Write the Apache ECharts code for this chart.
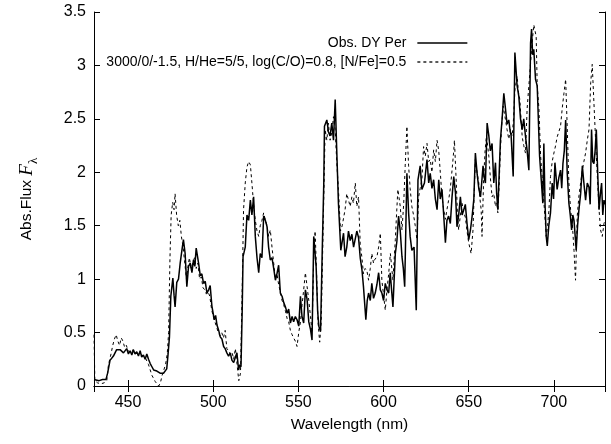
<!DOCTYPE html>
<html>
<head>
<meta charset="utf-8">
<script src="https://cdn.jsdelivr.net/npm/echarts@6/dist/echarts.min.js"></script>
<style>html,body{margin:0;padding:0;background:#fff}#c{width:611px;height:444px}</style>
</head>
<body>
<div id="c"></div>
<script>
// Observed spectrum (solid)
const obsWl = [430,431,433,435,437,438,439.4,441.4,443.3,445.3,447.3,449.2,450.2,451.2,452.2,453.1,454.1,455.1,456.1,457.1,458,459,460,461,462,463,464,465,466.9,468.8,470.8,472.7,473.5,474.3,475.1,476.3,477,477.6,478.6,479.6,480.6,481.6,482.5,483.5,484.5,485.5,486.5,487.5,488.4,489.2,490,491.4,492.4,493.3,494.3,495.3,496.3,497.3,498.2,499.2,500.6,501.4,502.2,503.2,504.1,505.1,506.1,507,508,509,510,511,512,513,513.9,514.9,515.6,516.3,517,517.5,518.8,519.8,520.8,521.8,522.7,523.7,524.7,525.7,526.7,527.6,528.6,529.6,530.6,531.6,532.5,533.5,534.5,535.5,536.5,537.4,538.4,539.4,540.4,541.4,542.4,543.4,544.3,545.3,546.3,547.2,548.2,549.2,550.2,551.2,552.1,553.1,554.1,555.1,556.1,557.1,558,559,560.4,561.3,562,563,564,564.9,565.3,566.7,567.6,568.6,569.6,570.6,571.6,572.5,573.5,574.9,575.7,576.5,577.4,578.4,579.4,580.4,581.4,582.4,583.4,584.3,585.3,586.3,587.3,588.2,589.6,590.4,591.2,592.2,593.1,594.1,595.1,596.1,597.1,598.1,599,600,601,602,603,603.9,605.5,606.9,607.8,608.8,609.8,610.8,611.6,612.4,613.7,614.7,615.6,616.6,617.9,619.2,620.2,621.5,622.5,624,625.5,626.5,627.4,628.4,629.4,630.4,631.4,632.4,633.3,634.3,635.3,636.3,637.2,638.2,639.2,640.2,641.2,642.2,643.1,644.1,645.1,646.1,647.1,648,649,650,651,652,653,653.9,654.9,655.9,656.9,657.6,658.4,659.1,659.8,660.8,661.8,662.7,663.7,664.7,665.7,666.4,667.1,667.9,668.6,669.6,670.6,671.6,672.5,673.5,674.2,674.9,676.1,677.1,678.4,679.4,680.4,681.4,682.3,683.3,684.3,685.3,686.3,686.9,687.5,688.2,689.2,690.2,691.6,692.7,693.5,694.1,694.8,695.5,696.1,697,698,699,699.8,700.6,701.9,702.9,703.9,704.6,705.3,706.1,706.9,707.8,708.8,709.6,710.4,711.1,711.8,712.5,713.1,713.9,714.7,715.7,716.7,717.6,718.6,719.6,720.6,721.3,722.1,722.8,723.5,724.2,724.9,725.7,726.5,727.3,728,728.7,729.4,730];
const obsFlux = [0.06,0.06,0.05,0.06,0.06,0.12,0.24,0.28,0.34,0.34,0.31,0.35,0.30,0.33,0.29,0.34,0.30,0.32,0.28,0.33,0.27,0.29,0.25,0.30,0.25,0.21,0.18,0.15,0.14,0.12,0.12,0.16,0.30,0.46,0.84,1.01,0.85,0.74,0.97,1.00,1.15,1.27,1.37,1.24,0.93,1.12,1.15,1.06,1.18,1.12,1.29,1.15,1.03,1.05,0.96,0.98,0.87,0.90,0.94,0.75,0.62,0.66,0.57,0.52,0.46,0.44,0.37,0.35,0.31,0.28,0.31,0.24,0.22,0.27,0.31,0.15,0.20,0.18,0.70,1.21,1.30,1.60,1.55,1.74,1.60,1.77,1.40,1.20,1.06,1.24,1.20,1.59,1.55,1.49,1.30,1.18,1.20,1.10,0.99,1.05,1.13,0.87,0.84,0.78,0.74,0.68,0.72,0.59,0.65,0.60,0.65,0.62,0.56,0.84,0.65,0.59,0.90,0.81,0.60,0.53,0.43,1.40,1.12,0.70,0.56,0.51,1.27,1.90,2.43,2.49,2.38,2.34,2.46,2.30,2.68,2.21,1.71,1.27,1.35,1.43,1.21,1.30,1.45,1.36,1.42,1.30,1.31,1.45,1.39,1.20,1.09,0.93,0.62,0.80,0.87,0.80,0.96,0.82,0.87,0.95,1.06,0.90,0.87,0.80,0.96,0.90,0.87,1.06,0.74,1.24,1.35,1.59,1.45,1.21,1.10,0.93,1.99,1.62,1.40,1.27,1.30,0.71,1.93,2.06,1.84,1.90,2.12,1.90,1.99,1.85,1.93,1.75,1.65,1.93,1.75,1.84,1.60,1.34,1.55,1.59,1.52,1.77,1.96,1.81,1.49,1.60,1.77,1.60,1.65,1.70,1.52,1.37,1.46,1.59,1.75,2.18,1.99,1.85,1.77,1.90,2.06,1.95,1.90,2.46,2.34,2.20,2.27,1.90,2.09,1.80,1.65,2.00,2.30,2.50,2.74,2.59,2.45,2.49,2.40,2.34,1.96,3.12,2.81,2.71,2.50,2.40,2.50,2.34,2.20,2.02,3.21,3.34,3.10,3.15,2.87,2.81,2.15,1.90,1.71,2.27,1.70,1.40,1.31,1.50,1.62,1.90,1.75,2.09,1.84,1.95,2.02,1.85,2.08,2.20,2.49,2.00,1.71,1.60,1.46,1.60,1.55,1.40,1.27,1.50,1.65,1.80,2.06,1.90,1.74,1.90,1.86,1.70,2.40,2.10,2.08,2.20,2.40,2.00,1.65,1.80,1.90,1.60,1.74,1.70];

// Model spectrum (dashed)
const modWl = [430,430.5,432,434,436,437.5,438.5,440,441,442,443,444,445,446,447,448,449,450,451,452,453,454,455,456,457,458,459,460,461,462,463,464,465,466,467,468,469,470,471,472,473,473.8,474.6,475.3,476.2,477,477.6,478.5,479.5,480.4,481.3,482.3,483.3,484.3,485.2,486,487,488,489,490,491,492,493,494,495,496,497,498,499,500,501,502,503,504,505,506,507,508,509,510,511,512,513,514,515,516,517,517.8,518.8,519.8,520.8,521.8,522.7,523.7,524.7,525.7,526.7,527.6,528.6,529.6,530.6,531.6,532.5,533.5,534.5,535.5,536.5,537.4,538.4,539.4,540.4,541.4,542.4,543.4,544.3,545.3,546.3,547.2,548.2,549.2,550.2,551.2,552.1,553.1,554.1,555.1,556.1,557.1,558,559,559.8,560.6,561.5,562.5,563.4,564.3,565.2,565.7,566.7,567.6,568.6,569.6,570.6,571.6,572.5,573.5,574.7,575.7,576.5,577.4,578.4,579.4,580.4,581.4,582.3,583.4,584.3,585.3,586.3,587.3,588.2,589.2,590.2,591.2,592.2,593.1,594.1,594.7,596.1,597.1,598.1,599,600,601,602,603,604,605.5,606.9,607.6,608.4,609.8,610.8,611.8,612.7,613.7,614.7,615.6,616.6,617.6,618.6,619.6,620.6,621.5,622.5,623.5,624.5,625.5,626.5,627.4,628.4,629.4,630.4,631.4,632.4,633.3,634.3,635.3,636.3,637.2,638.2,639.2,640.2,641.2,641.6,642.7,643.4,644.1,645.1,646.1,647.1,648,649,650,651.4,652.5,653.2,653.9,654.9,655.9,656.6,657.3,657.8,658.8,659.6,660.4,661.1,661.8,662.7,663.7,664.7,665.7,666.4,667.1,667.9,668.6,669.4,670.2,671.6,672.5,673.5,674.5,675.5,676.3,677.1,678.4,679.2,680,680.7,681.4,682.3,683.3,684.3,685.3,686.2,687.2,688.2,689.6,690.2,691.2,692.2,693.1,694,694.7,695.5,696.3,697.1,698,699,700,701,701.9,702.9,703.9,704.9,705.9,706.9,707.8,708.8,709.8,710.8,711.8,712.7,713.7,714.7,715.7,716.7,717.6,718.6,719.6,720.6,721.6,722.5,723.5,724.2,724.9,725.7,726.5,727.4,728.4,729.4,730];
const modFlux = [0.48,0.05,0.03,0.02,0.03,0.05,0.20,0.30,0.38,0.44,0.48,0.42,0.38,0.45,0.42,0.36,0.38,0.33,0.34,0.31,0.34,0.31,0.32,0.30,0.31,0.29,0.30,0.27,0.26,0.20,0.15,0.10,0.07,0.04,0.02,0.00,0.03,0.10,0.15,0.20,0.30,0.50,1.20,1.60,1.72,1.65,1.80,1.60,1.50,1.55,1.40,1.30,1.15,1.00,1.12,1.20,1.10,1.15,1.20,1.10,1.15,1.00,1.02,0.92,0.90,0.86,0.88,0.84,0.72,0.65,0.60,0.55,0.50,0.47,0.50,0.45,0.52,0.35,0.33,0.30,0.32,0.25,0.35,0.20,0.05,0.12,0.90,1.65,1.90,2.05,2.10,2.07,1.90,1.70,1.55,1.45,1.40,1.50,1.55,1.62,1.55,1.50,1.40,1.46,1.30,1.15,1.00,1.05,0.95,0.88,0.80,0.76,0.70,0.63,0.60,0.52,0.48,0.45,0.42,0.37,0.50,0.60,0.75,0.90,1.06,0.93,0.80,0.65,0.50,1.20,1.45,1.10,0.60,0.41,0.60,1.30,2.00,2.40,2.30,2.46,2.30,2.37,2.52,2.40,2.10,1.84,1.45,1.50,1.49,1.65,1.80,1.80,1.68,1.77,1.71,1.90,1.68,1.77,1.33,1.20,1.05,1.10,1.08,0.99,1.10,1.24,1.15,1.18,1.21,1.30,1.43,0.99,0.85,0.71,0.90,1.05,1.24,0.99,1.37,1.60,1.84,1.68,1.46,1.70,2.06,2.43,2.06,1.85,1.68,1.60,1.50,1.37,1.77,1.85,1.93,2.24,2.15,2.27,2.10,2.12,2.00,2.21,2.10,2.30,2.20,2.00,1.77,1.65,1.56,1.65,1.74,1.85,2.02,2.20,2.30,1.90,1.60,1.46,1.60,1.71,1.62,1.58,1.45,1.34,1.24,1.46,1.80,2.12,2.00,1.90,1.75,1.65,1.40,1.96,2.20,2.34,2.25,2.15,1.95,1.77,1.80,1.68,1.72,1.62,1.90,2.21,2.45,2.62,2.49,2.40,2.31,2.40,2.34,2.50,2.77,2.90,2.75,2.68,2.50,2.33,2.25,2.18,2.60,2.81,3.00,3.21,3.38,3.27,2.81,2.60,2.15,1.96,1.75,1.59,1.40,1.50,1.65,1.96,2.10,2.18,2.25,2.33,2.38,2.43,2.60,2.74,2.87,2.43,1.90,1.65,1.52,1.27,0.99,1.59,1.78,1.90,2.02,2.10,2.18,2.30,2.40,2.84,3.01,2.65,2.40,2.15,1.90,1.65,1.46,1.40,1.52,1.55];

const seriesNames = ['Obs. DY Per', '3000/0/-1.5, H/He=5/5, log(C/O)=0.8, [N/Fe]=0.5'];
const xName = 'Wavelength (nm)';

const FONT = 'Liberation Sans';
const pair = (xs, ys) => xs.map((x, i) => [x, ys[i]]);

const chart = echarts.init(document.getElementById('c'), null, {renderer: 'canvas'});
const axisCommon = {
  axisLine: {show: true, lineStyle: {color: '#000', width: 1}},
  axisTick: {show: true, inside: true, length: 6, lineStyle: {color: '#000', width: 1}},
  splitLine: {show: false}
};
chart.setOption({
  animation: false,
  backgroundColor: '#fff',
  grid: {left: 94, right: 6, top: 12, bottom: 58, containLabel: false},
  legend: {
    orient: 'vertical', align: 'right', right: 143, top: 36, padding: 0,
    itemWidth: 50, itemHeight: 14, itemGap: 5,
    textStyle: {fontFamily: FONT, fontSize: 14, color: '#000', padding: [0, 6, 0, 0]},
    lineStyle: {width: 1.3},
    itemStyle: {color: 'rgba(0,0,0,0)', borderColor: 'rgba(0,0,0,0)', borderWidth: 0, opacity: 0},
    data: seriesNames
  },
  xAxis: [
    Object.assign({type: 'value', position: 'bottom', min: 430, max: 730, splitNumber: 6,
      name: xName, nameLocation: 'middle', nameGap: 31,
      nameTextStyle: {fontFamily: FONT, fontSize: 15.5, color: '#000'},
      axisLabel: {fontFamily: FONT, fontSize: 16, color: '#000', margin: 9, showMinLabel: false, showMaxLabel: false}
    }, axisCommon),
    Object.assign({type: 'value', position: 'top', min: 430, max: 730, splitNumber: 6,
      axisLabel: {show: false}}, axisCommon)
  ],
  yAxis: [
    Object.assign({type: 'value', position: 'left', min: 0, max: 3.5, interval: 0.5,
      name: '{n|Abs.Flux }{f|F}{s|λ}', nameLocation: 'middle', nameGap: 54,
      nameTextStyle: {
        color: '#000',
        rich: {
          n: {fontFamily: FONT, fontSize: 15.5, color: '#000', lineHeight: 26},
          f: {fontFamily: 'Liberation Serif', fontStyle: 'italic', fontSize: 19, color: '#000', lineHeight: 26},
          s: {fontFamily: 'Liberation Serif', fontSize: 13, color: '#000', verticalAlign: 'bottom', lineHeight: 13}
        }
      },
      axisLabel: {fontFamily: FONT, fontSize: 16, color: '#000', margin: 8}
    }, axisCommon),
    Object.assign({type: 'value', position: 'right', min: 0, max: 3.5, interval: 0.5,
      axisLabel: {show: false}}, axisCommon)
  ],
  series: [
    {name: seriesNames[0], type: 'line', symbol: 'none', showSymbol: false, data: pair(obsWl, obsFlux),
     lineStyle: {color: '#000', width: 1.5, type: 'solid'}, itemStyle: {color: '#000'}, clip: true},
    {name: seriesNames[1], type: 'line', symbol: 'none', showSymbol: false, data: pair(modWl, modFlux),
     lineStyle: {color: '#000', width: 1, type: [3, 3]}, itemStyle: {color: '#000'}, clip: true}
  ]
});
</script>
</body>
</html>
